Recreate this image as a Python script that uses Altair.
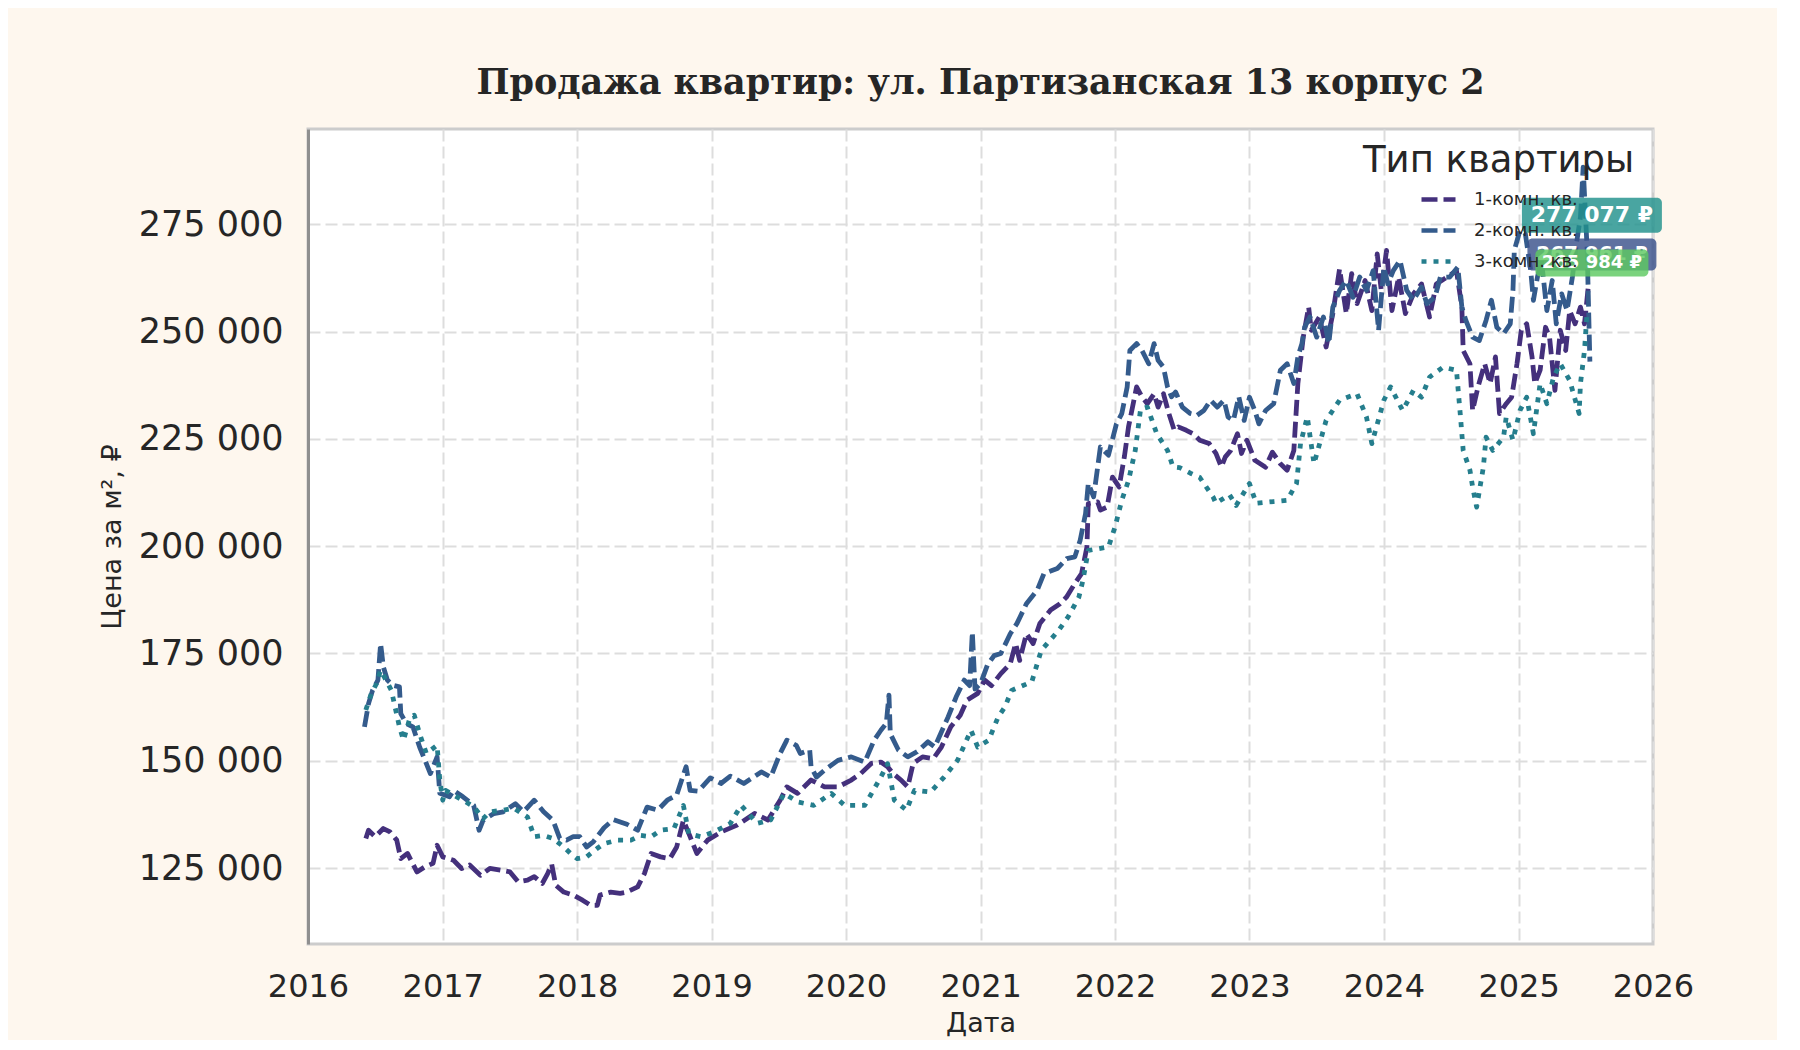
import altair as alt
import pandas as pd

# price per m², thousands of rubles, against decimal year
types = ["1-комн. кв.", "2-комн. кв.", "3-комн. кв."]

dates_1 = [
    2016.43, 2016.45, 2016.50, 2016.56, 2016.61, 2016.66, 2016.69, 2016.74, 2016.81, 2016.87,
    2016.93, 2016.96, 2017.00, 2017.08, 2017.14, 2017.20, 2017.28, 2017.35, 2017.43, 2017.50,
    2017.56, 2017.63, 2017.68, 2017.74, 2017.78, 2017.81, 2017.84, 2017.90, 2017.97, 2018.04,
    2018.10, 2018.15, 2018.17, 2018.25, 2018.32, 2018.37, 2018.45, 2018.50, 2018.55, 2018.62,
    2018.69, 2018.74, 2018.79, 2018.84, 2018.89, 2018.97, 2019.07, 2019.19, 2019.32, 2019.42,
    2019.51, 2019.56, 2019.64, 2019.74, 2019.84, 2019.94, 2020.04, 2020.11, 2020.19, 2020.26,
    2020.31, 2020.35, 2020.41, 2020.46, 2020.50, 2020.57, 2020.65, 2020.71, 2020.78, 2020.85,
    2020.90, 2020.98, 2021.03, 2021.08, 2021.15, 2021.22, 2021.26, 2021.29, 2021.34, 2021.39,
    2021.44, 2021.52, 2021.59, 2021.64, 2021.70, 2021.75, 2021.79, 2021.80, 2021.87, 2021.89,
    2021.94, 2021.98, 2022.03, 2022.07, 2022.10, 2022.14, 2022.16, 2022.20, 2022.24, 2022.29,
    2022.32, 2022.36, 2022.40, 2022.44, 2022.47, 2022.53, 2022.58, 2022.63, 2022.70, 2022.75,
    2022.79, 2022.82, 2022.86, 2022.91, 2022.94, 2022.98, 2023.04, 2023.12, 2023.17, 2023.23,
    2023.28, 2023.33, 2023.36, 2023.40, 2023.44, 2023.46, 2023.52, 2023.57, 2023.62, 2023.67,
    2023.72, 2023.76, 2023.80, 2023.86, 2023.91, 2023.95, 2023.98, 2024.02, 2024.06, 2024.11,
    2024.16, 2024.22, 2024.28, 2024.34, 2024.39, 2024.47, 2024.54, 2024.58, 2024.59, 2024.64,
    2024.66, 2024.70, 2024.75, 2024.79, 2024.83, 2024.86, 2024.91, 2024.95, 2024.99, 2025.02,
    2025.06, 2025.10, 2025.12, 2025.16, 2025.20, 2025.23, 2025.27, 2025.31, 2025.35, 2025.38,
    2025.42, 2025.46, 2025.49, 2025.52,
]
price_1 = [
    131.9, 133.8, 132.3, 134.2, 133.4, 131.5, 127.2, 128.4, 124.1, 125.3,
    126.1, 130.3, 127.6, 126.8, 124.9, 125.7, 123.3, 124.9, 124.5, 124.1,
    121.8, 122.2, 123.0, 121.4, 123.7, 125.9, 121.0, 119.4, 118.7, 117.5,
    116.3, 116.3, 118.7, 119.4, 119.1, 119.4, 120.6, 123.7, 128.4, 127.6,
    127.2, 129.9, 136.1, 132.3, 128.4, 131.5, 133.4, 135.0, 137.7, 136.2,
    140.8, 143.9, 142.4, 145.5, 143.9, 143.9, 145.5, 147.0, 149.4, 149.7,
    148.6, 147.0, 145.5, 143.9, 149.4, 150.9, 150.5, 153.2, 157.9, 160.6,
    164.1, 165.7, 168.8, 167.5, 170.3, 172.6, 177.3, 173.4, 179.6, 177.3,
    182.0, 185.1, 186.6, 188.2, 191.3, 193.6, 199.8, 209.9, 210.3, 208.4,
    209.1, 216.1, 213.8, 221.0, 227.8, 234.0, 237.1, 234.8, 233.2, 235.5,
    232.4, 235.5, 230.9, 227.0, 227.8, 227.0, 226.2, 224.7, 223.9, 221.6,
    218.5, 220.8, 222.3, 226.2, 221.6, 224.7, 220.0, 218.4, 221.9, 219.2,
    217.7, 222.3, 237.9, 248.7, 255.7, 250.3, 253.4, 246.4, 254.2, 264.6,
    254.2, 263.5, 256.5, 261.9, 254.9, 268.1, 259.6, 268.9, 254.9, 262.7,
    254.2, 258.8, 261.1, 253.4, 261.1, 262.7, 264.2, 255.7, 245.6, 242.5,
    231.6, 237.1, 242.5, 237.9, 244.1, 230.9, 233.2, 234.7, 242.5, 250.3,
    251.8, 244.1, 237.9, 241.0, 251.0, 248.7, 236.3, 250.3, 245.6, 254.9,
    251.8, 255.7, 251.8, 261.1,
]

dates_2 = [
    2016.42, 2016.45, 2016.48, 2016.52, 2016.54, 2016.56, 2016.59, 2016.63, 2016.68, 2016.69,
    2016.73, 2016.78, 2016.83, 2016.87, 2016.91, 2016.96, 2016.98, 2017.05, 2017.08, 2017.15,
    2017.23, 2017.27, 2017.30, 2017.38, 2017.45, 2017.54, 2017.60, 2017.68, 2017.75, 2017.82,
    2017.87, 2017.92, 2017.97, 2018.02, 2018.07, 2018.12, 2018.20, 2018.27, 2018.37, 2018.45,
    2018.52, 2018.60, 2018.67, 2018.74, 2018.81, 2018.84, 2018.90, 2018.99, 2019.07, 2019.14,
    2019.24, 2019.37, 2019.44, 2019.51, 2019.56, 2019.63, 2019.66, 2019.73, 2019.74, 2019.78,
    2019.84, 2019.94, 2020.04, 2020.14, 2020.21, 2020.26, 2020.30, 2020.32, 2020.33, 2020.39,
    2020.46, 2020.53, 2020.61, 2020.66, 2020.76, 2020.82, 2020.88, 2020.92, 2020.94, 2020.96,
    2021.00, 2021.05, 2021.10, 2021.15, 2021.22, 2021.27, 2021.34, 2021.42, 2021.47, 2021.57,
    2021.64, 2021.70, 2021.74, 2021.78, 2021.80, 2021.84, 2021.89, 2021.95, 2022.01, 2022.05,
    2022.09, 2022.11, 2022.16, 2022.20, 2022.25, 2022.29, 2022.32, 2022.36, 2022.39, 2022.42,
    2022.45, 2022.50, 2022.56, 2022.61, 2022.66, 2022.71, 2022.76, 2022.81, 2022.84, 2022.88,
    2022.92, 2022.96, 2023.00, 2023.04, 2023.07, 2023.12, 2023.18, 2023.23, 2023.28, 2023.33,
    2023.36, 2023.39, 2023.41, 2023.45, 2023.50, 2023.55, 2023.59, 2023.62, 2023.67, 2023.72,
    2023.77, 2023.82, 2023.87, 2023.92, 2023.96, 2024.00, 2024.03, 2024.07, 2024.12, 2024.17,
    2024.22, 2024.28, 2024.32, 2024.38, 2024.42, 2024.49, 2024.55, 2024.58, 2024.61, 2024.66,
    2024.71, 2024.76, 2024.80, 2024.84, 2024.89, 2024.94, 2024.96, 2024.97, 2025.01, 2025.05,
    2025.09, 2025.11, 2025.14, 2025.17, 2025.21, 2025.25, 2025.28, 2025.32, 2025.36, 2025.40,
    2025.43, 2025.46, 2025.48, 2025.51, 2025.53,
]
price_2 = [
    157.9, 163.3, 166.4, 168.8, 177.3, 171.9, 168.8, 167.6, 167.2, 161.0,
    158.7, 157.9, 153.2, 150.1, 147.0, 150.9, 142.4, 141.6, 143.1, 141.6,
    139.6, 133.8, 136.1, 137.7, 138.1, 140.0, 138.1, 140.8, 138.1, 136.1,
    131.9, 131.5, 132.3, 132.3, 129.9, 131.1, 134.4, 136.3, 135.2, 133.8,
    139.2, 138.5, 140.8, 142.0, 148.6, 143.1, 142.9, 146.0, 144.7, 146.4,
    144.7, 147.4, 146.2, 151.7, 154.8, 153.6, 151.7, 152.5, 148.6, 146.2,
    147.8, 150.1, 150.9, 149.7, 154.8, 157.1, 158.7, 165.3, 156.3, 152.5,
    150.9, 152.1, 154.4, 153.2, 160.2, 164.9, 168.8, 167.5, 180.0, 166.7,
    168.0, 172.3, 174.5, 175.0, 179.6, 182.0, 186.6, 189.7, 193.6, 194.8,
    197.1, 197.5, 201.4, 207.6, 214.6, 211.5, 223.1, 221.2, 228.5, 230.9,
    237.1, 245.6, 247.2, 245.6, 242.5, 247.2, 243.3, 241.7, 237.1, 234.8,
    235.9, 232.4, 230.9, 230.5, 231.6, 234.0, 232.4, 234.0, 230.1, 229.3,
    234.8, 229.3, 234.7, 231.6, 228.5, 231.6, 233.2, 241.0, 242.5, 237.9,
    244.1, 247.2, 251.0, 253.4, 248.7, 253.4, 247.2, 255.7, 259.6, 261.9,
    258.0, 262.7, 259.6, 264.2, 250.3, 265.0, 261.1, 264.2, 266.6, 259.6,
    257.3, 260.4, 256.5, 258.0, 262.7, 262.7, 265.0, 255.7, 252.6, 248.7,
    247.9, 252.6, 257.3, 251.0, 249.5, 251.8, 259.6, 268.9, 273.6, 272.8,
    264.2, 257.3, 262.7, 266.6, 254.9, 261.9, 251.8, 258.8, 254.9, 262.7,
    270.5, 276.7, 288.3, 268.9, 243.0,
]

dates_3 = [
    2016.43, 2016.47, 2016.51, 2016.54, 2016.58, 2016.62, 2016.68, 2016.71, 2016.76, 2016.79,
    2016.83, 2016.88, 2016.96, 2016.98, 2017.00, 2017.02, 2017.08, 2017.15, 2017.23, 2017.30,
    2017.35, 2017.45, 2017.53, 2017.63, 2017.68, 2017.75, 2017.82, 2017.90, 2017.95, 2018.00,
    2018.07, 2018.15, 2018.20, 2018.30, 2018.40, 2018.47, 2018.55, 2018.62, 2018.72, 2018.79,
    2018.83, 2018.92, 2019.02, 2019.14, 2019.22, 2019.34, 2019.44, 2019.54, 2019.64, 2019.76,
    2019.89, 2019.99, 2020.14, 2020.26, 2020.31, 2020.36, 2020.45, 2020.51, 2020.63, 2020.73,
    2020.83, 2020.93, 2020.98, 2021.06, 2021.13, 2021.18, 2021.23, 2021.38, 2021.45, 2021.58,
    2021.65, 2021.73, 2021.76, 2021.80, 2021.95, 2022.00, 2022.05, 2022.10, 2022.15, 2022.19,
    2022.24, 2022.31, 2022.39, 2022.43, 2022.48, 2022.56, 2022.63, 2022.73, 2022.75, 2022.85,
    2022.90, 2023.00, 2023.05, 2023.18, 2023.28, 2023.35, 2023.38, 2023.43, 2023.48, 2023.57,
    2023.67, 2023.80, 2023.87, 2023.91, 2024.00, 2024.05, 2024.14, 2024.22, 2024.28, 2024.34,
    2024.44, 2024.54, 2024.57, 2024.59, 2024.64, 2024.66, 2024.69, 2024.74, 2024.76, 2024.81,
    2024.89, 2024.91, 2024.96, 2025.01, 2025.06, 2025.11, 2025.16, 2025.21, 2025.26, 2025.31,
    2025.38, 2025.45, 2025.46, 2025.49, 2025.51,
]
price_3 = [
    161.8, 165.6, 168.0, 171.1, 168.8, 166.4, 157.9, 154.8, 160.2, 160.6,
    156.3, 151.7, 153.6, 145.5, 140.8, 143.1, 142.0, 140.8, 139.3, 136.5,
    138.1, 138.5, 138.9, 136.9, 132.3, 132.6, 131.9, 129.9, 128.4, 127.2,
    127.6, 129.6, 130.7, 131.5, 131.5, 132.6, 132.3, 133.8, 134.2, 139.6,
    133.0, 132.3, 133.4, 135.4, 139.6, 135.4, 136.2, 142.4, 140.4, 139.6,
    142.4, 139.6, 139.6, 146.2, 149.3, 140.8, 138.5, 143.1, 142.7, 146.2,
    150.1, 157.1, 153.2, 154.8, 160.2, 162.5, 166.4, 168.4, 175.7, 180.4,
    183.5, 188.1, 192.0, 199.0, 199.8, 204.5, 210.7, 215.3, 222.3, 232.0,
    232.4, 226.2, 222.3, 218.5, 218.3, 217.0, 216.0, 211.4, 210.0, 212.0,
    209.5, 214.6, 210.0, 210.4, 210.7, 214.6, 224.0, 230.1, 219.2, 229.3,
    234.0, 235.5, 230.1, 223.9, 234.0, 237.1, 231.6, 236.3, 234.7, 239.4,
    241.7, 241.0, 230.1, 222.3, 217.7, 213.8, 209.1, 218.4, 225.4, 222.3,
    225.4, 230.1, 224.7, 231.6, 234.7, 226.2, 237.9, 233.2, 239.4, 242.5,
    238.6, 230.9, 237.9, 245.6, 254.9,
]

# value boxes at the right end
label_text = ["277 077 ₽", "267 961 ₽", "265 984 ₽"]
label_price = [277077, 267961, 265984]
label_year = 2025.545


def to_date(y):
    year = int(y)
    return pd.Timestamp(year=year, month=1, day=1) + pd.Timedelta(days=(y - year) * 365.25)


rows = []
for name, ds, ps in zip(types, [dates_1, dates_2, dates_3], [price_1, price_2, price_3]):
    for d, p in zip(ds, ps):
        rows.append({"type": name, "date": to_date(d), "price": p * 1000})
df = pd.DataFrame(rows)

labels_df = pd.DataFrame({
    "text": label_text,
    "price": label_price,
    "date": [to_date(label_year)] * 3,
})

ink = "#262626"
line_colors = ["#44307c", "#345b8c", "#257e8d"]
dashes = [[16, 6], [16, 6], [5, 7]]

x_scale = alt.Scale(domain=[alt.DateTime(year=2016, month=1, date=1),
                            alt.DateTime(year=2026, month=1, date=1)])
y_scale = alt.Scale(domain=[107300, 297200], nice=False, zero=False)

legend = alt.Legend(
    title="Тип квартиры", orient="none", legendX=1055, legendY=14, padding=0,
    titleFont="DejaVu Sans", titleFontSize=37, titleFontWeight="normal", titleColor=ink,
    titlePadding=0, titleLimit=600,
    labelFont="DejaVu Sans", labelFontSize=18, labelColor=ink, labelOffset=16, labelLimit=300,
    symbolType="stroke", symbolSize=1156, symbolStrokeWidth=4.5, symbolOffset=56,
    rowPadding=2,
)

lines = alt.Chart(df).mark_line(strokeWidth=4.8, strokeJoin="round").encode(
    x=alt.X("date:T", scale=x_scale, title="Дата",
            axis=alt.Axis(values=[alt.DateTime(year=y, month=1, date=1) for y in range(2016, 2027)],
                          format="%Y", labelFontSize=32, labelPadding=27, titlePadding=8,
                          labelFlush=False, labelOverlap=False)),
    y=alt.Y("price:Q", scale=y_scale, title="Цена за м², ₽",
            axis=alt.Axis(values=list(range(125000, 276000, 25000)),
                          labelExpr="replace(format(datum.value, ','), ',', ' ')",
                          labelFontSize=35, labelPadding=25, titlePadding=12)),
    color=alt.Color("type:N", scale=alt.Scale(domain=types, range=line_colors), legend=legend),
    strokeDash=alt.StrokeDash("type:N", scale=alt.Scale(domain=types, range=dashes), legend=legend),
    order=alt.Order("date:T"),
)

# box colour, width, height, font size
box_styles = [("#21918c", 140, 35, 22), ("#3b528b", 129, 32, 20), ("#5ec962", 113, 27, 18)]

layers = [lines]
for i, (fill, w, h, fs) in enumerate(box_styles):
    one = labels_df.iloc[[i]]
    box = alt.Chart(one).mark_rect(
        color=fill, opacity=0.82, cornerRadius=5,
        xOffset=-w / 2, x2Offset=w / 2, yOffset=-h / 2, y2Offset=h / 2,
    ).encode(x="date:T", x2="date:T", y="price:Q", y2="price:Q")
    txt = alt.Chart(one).mark_text(
        font="DejaVu Sans", fontWeight="bold", fontSize=fs, color="white",
        align="center", baseline="middle",
    ).encode(x="date:T", y="price:Q", text="text:N")
    layers += [box, txt]

chart = alt.layer(*layers).properties(
    width=1345, height=815,
    background="#fef7ee",
    padding={"left": 300, "top": 121, "right": 124, "bottom": 96},
    autosize=alt.AutoSizeParams(type="none"),
    title=alt.TitleParams(
        "Продажа квартир: ул. Партизанская 13 корпус 2",
        font="DejaVu Serif", fontSize=35, fontWeight="bold", color=ink,
        anchor="middle", offset=28,
    ),
).configure_view(
    fill="white", stroke="#cccccc", strokeWidth=3,
).configure_axis(
    grid=True, gridColor="#dddddd", gridDash=[12, 5], gridWidth=2,
    ticks=False, domain=False,
    labelFont="DejaVu Sans", labelColor=ink,
    titleFont="DejaVu Sans", titleFontSize=27, titleFontWeight="normal", titleColor=ink,
).configure_axisY(
    domain=True, domainColor="#8f8f8f", domainWidth=3,
)

chart.save("out.html", embed_options={"renderer": "svg", "actions": False})
